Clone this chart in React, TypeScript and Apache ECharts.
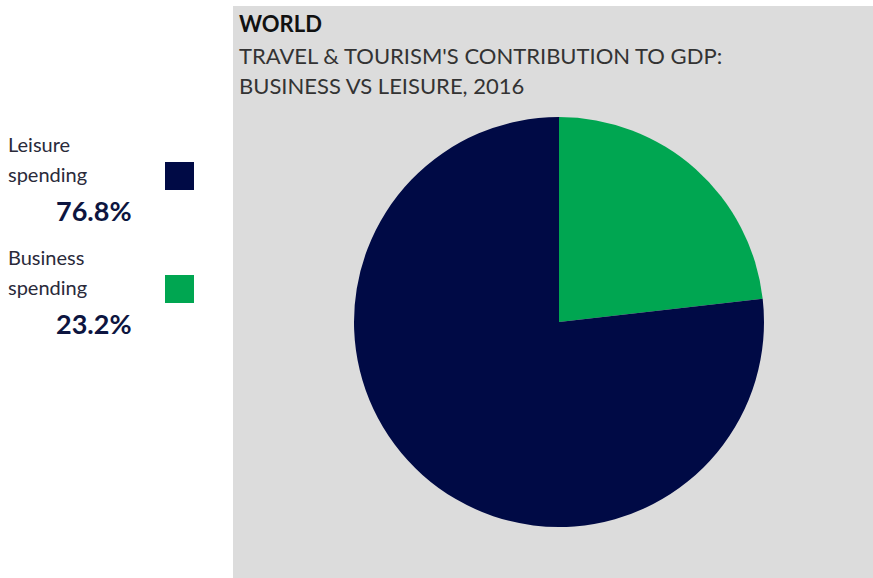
import React, { useEffect, useRef } from "react";
import * as echarts from "echarts";

const categories = ["Business spending", "Leisure spending"];
const shares = [23.2, 76.8];
const colors = ["#00a651", "#000a45"];
const legendLines = [["Business", "spending"], ["Leisure", "spending"]];

const titleMain = "WORLD";
const titleLines = ["TRAVEL & TOURISM'S CONTRIBUTION TO GDP:", "BUSINESS VS LEISURE, 2016"];

const FONT = "Lato, 'Open Sans', sans-serif";

export default function App() {
  const ref = useRef<HTMLDivElement>(null);
  useEffect(() => {
    if (!ref.current) return;
    const chart = echarts.init(ref.current, null, { renderer: "svg" });

    // legend blocks: leisure on top, business below
    const order = [1, 0];
    const blockTop = [140, 253];
    const legendGraphics: any[] = [];
    order.forEach((idx, k) => {
      const top = blockTop[k];
      legendGraphics.push({
        type: "text",
        left: 8,
        top: top - 11,
        style: {
          text: legendLines[idx].join("\n"),
          font: `20px ${FONT}`,
          lineHeight: 30,
          fill: "#2a2a3a",
        },
      });
      legendGraphics.push({
        type: "text",
        left: 56,
        top: top + 57,
        style: {
          text: shares[idx].toFixed(1) + "%",
          font: `bold 27px ${FONT}`,
          fill: "#0d1540",
        },
      });
      legendGraphics.push({
        type: "rect",
        shape: { x: 165, y: top + 22, width: 29, height: 28 },
        style: { fill: colors[idx] },
      });
    });

    chart.setOption({
      animation: false,
      graphic: [
        {
          type: "rect",
          z: -10,
          shape: { x: 233, y: 6, width: 640, height: 572 },
          style: { fill: "#dcdcdc" },
        },
        {
          type: "text",
          left: 239,
          top: 12,
          style: { text: titleMain, font: `bold 22px ${FONT}`, fill: "#111111" },
        },
        {
          type: "text",
          left: 239,
          top: 40,
          style: {
            text: titleLines.join("\n"),
            font: `22px ${FONT}`,
            lineHeight: 30,
            fill: "#333333",
          },
        },
        ...legendGraphics,
      ],
      series: [
        {
          type: "pie",
          center: [559, 322],
          radius: 205,
          startAngle: 90,
          clockwise: true,
          label: { show: false },
          labelLine: { show: false },
          emphasis: { disabled: true },
          itemStyle: { borderWidth: 0 },
          data: categories.map((c, i) => ({
            name: c,
            value: shares[i],
            itemStyle: { color: colors[i] },
          })),
        },
      ],
    });
    return () => chart.dispose();
  }, []);
  return (
    <div
      ref={ref}
      style={{ position: "fixed", left: 0, top: 0, width: 873, height: 578, background: "#ffffff" }}
    />
  );
}
